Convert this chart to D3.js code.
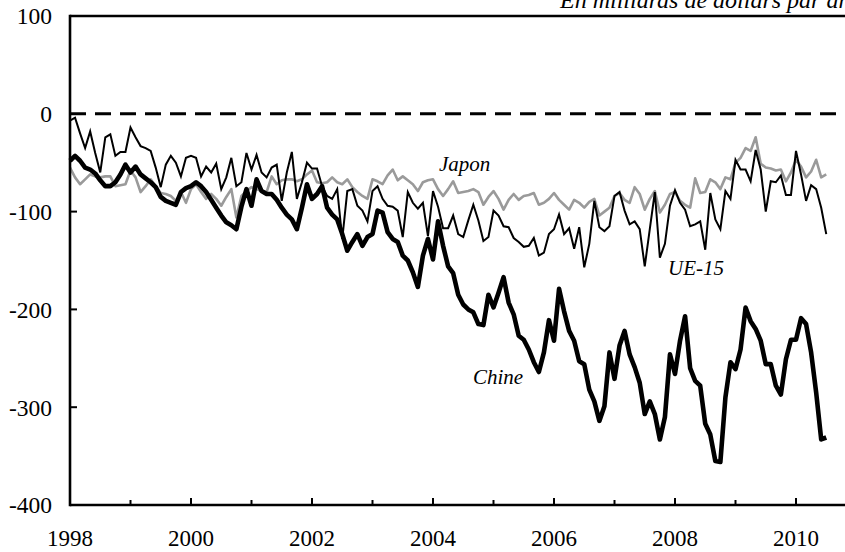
<!DOCTYPE html>
<html>
<head>
<meta charset="utf-8">
<script src="https://cdn.jsdelivr.net/npm/d3@7"></script>
<style>
  html, body { margin: 0; padding: 0; background: #fff; }
  svg { display: block; }
  text { font-family: "Liberation Serif", "Times New Roman", "DejaVu Serif", serif; fill: #000; }
</style>
</head>
<body>
<svg id="chart" width="845" height="552"></svg>
<script>
// ---- Data (monthly, starting January 1998), in billions of dollars per year ----
const startYear = 1998;
const seriesNames = ["Chine", "UE-15", "Japon"];
const chine = [
  -48,-43,-48,-55,-57,-61,-68,-74,-74,-70,-62,-52,
  -60,-54,-62,-66,-70,-75,-85,-89,-91,-93,-80,-76,
  -74,-70,-74,-80,-88,-96,-104,-111,-114,-118,-95,-77,
  -94,-67,-79,-82,-82,-88,-96,-103,-108,-118,-96,-72,
  -87,-82,-74,-96,-103,-108,-123,-140,-131,-123,-135,-126,
  -123,-99,-101,-121,-128,-131,-145,-150,-162,-177,-145,-128,
  -149,-110,-135,-156,-163,-185,-195,-200,-203,-215,-216,-185,
  -198,-183,-167,-193,-205,-227,-231,-241,-254,-264,-244,-211,
  -232,-179,-202,-222,-232,-253,-256,-282,-294,-314,-299,-244,
  -271,-237,-222,-246,-259,-275,-307,-294,-307,-333,-310,-246,
  -266,-232,-207,-260,-273,-278,-317,-328,-355,-356,-290,-254,
  -261,-241,-198,-212,-220,-232,-256,-256,-278,-287,-251,-231,
  -231,-209,-215,-244,-285,-333,-331
];
const ue15 = [
  -7,-4,-20,-35,-18,-40,-60,-24,-21,-43,-39,-39,
  -14,-24,-33,-35,-38,-55,-75,-52,-43,-50,-64,-45,
  -43,-45,-64,-54,-60,-51,-77,-65,-45,-74,-70,-40,
  -57,-42,-60,-65,-55,-52,-89,-60,-39,-87,-70,-50,
  -56,-56,-74,-84,-87,-77,-128,-79,-77,-94,-99,-110,
  -79,-74,-87,-94,-95,-99,-126,-80,-91,-97,-91,-125,
  -79,-95,-117,-117,-104,-123,-126,-109,-93,-109,-130,-126,
  -99,-104,-115,-116,-127,-131,-136,-135,-127,-145,-142,-123,
  -118,-103,-123,-117,-138,-116,-157,-133,-89,-116,-120,-115,
  -84,-80,-99,-113,-110,-118,-156,-118,-80,-147,-133,-94,
  -78,-91,-98,-115,-113,-110,-139,-81,-108,-118,-79,-87,
  -47,-57,-57,-69,-37,-57,-100,-69,-70,-63,-83,-83,
  -38,-62,-89,-73,-77,-96,-123
];
const japon = [
  -55,-65,-72,-67,-62,-64,-65,-64,-64,-74,-73,-72,
  -58,-65,-80,-74,-67,-74,-81,-82,-84,-89,-80,-91,
  -77,-72,-80,-87,-82,-87,-94,-85,-77,-106,-84,-79,
  -75,-77,-79,-80,-64,-72,-68,-67,-67,-69,-67,-62,
  -58,-70,-71,-70,-65,-70,-72,-67,-75,-80,-84,-87,
  -67,-69,-72,-63,-57,-68,-64,-68,-72,-79,-70,-68,
  -67,-77,-84,-77,-69,-81,-80,-79,-77,-80,-93,-85,
  -79,-87,-98,-88,-82,-88,-84,-83,-81,-93,-91,-87,
  -81,-88,-93,-98,-88,-91,-96,-90,-87,-104,-100,-96,
  -84,-81,-88,-91,-75,-82,-98,-87,-79,-101,-93,-82,
  -80,-89,-93,-96,-66,-81,-80,-67,-70,-77,-65,-67,
  -50,-45,-35,-38,-24,-51,-55,-56,-58,-57,-69,-60,
  -47,-54,-65,-59,-47,-65,-62
];
const yTicks = [100, 0, -100, -200, -300, -400];
const xTickYears = [1999, 2000, 2001, 2002, 2003, 2004, 2005, 2006, 2007, 2008, 2009, 2010];
const xLabelYears = [1998, 2000, 2002, 2004, 2006, 2008, 2010];
const titleText = "En milliards de dollars par an";

// ---- Layout ----
const svg = d3.select("#chart");
const plotLeft = 70, plotTop = 16, plotBottom = 505;
const x = d3.scaleLinear().domain([1998, 2011]).range([plotLeft, plotLeft + 13 * 60.5]);
const y = d3.scaleLinear().domain([-400, 100]).range([plotBottom, plotTop]);
const xRight = x(2011);

// Title (cut by top edge as in the source)
svg.append("text")
  .attr("x", 560).attr("y", 8)
  .attr("font-size", 24).attr("font-style", "italic")
  .text(titleText);

// Zero line (dashed)
svg.append("line")
  .attr("x1", plotLeft).attr("x2", xRight)
  .attr("y1", y(0)).attr("y2", y(0))
  .attr("stroke", "#000").attr("stroke-width", 3)
  .attr("stroke-dasharray", "16,9");

// Series lines
const line = d3.line()
  .x((d, i) => x(startYear + i / 12))
  .y(d => y(d));

svg.append("path").datum(japon)
  .attr("d", line).attr("fill", "none")
  .attr("stroke", "#9a9a9a").attr("stroke-width", 2.6)
  .attr("stroke-linejoin", "round");
svg.append("path").datum(ue15)
  .attr("d", line).attr("fill", "none")
  .attr("stroke", "#000").attr("stroke-width", 2)
  .attr("stroke-linejoin", "miter");
svg.append("path").datum(chine)
  .attr("d", line).attr("fill", "none")
  .attr("stroke", "#000").attr("stroke-width", 4.6)
  .attr("stroke-linejoin", "round");

// Frame: top line, left axis, bottom axis
svg.append("line").attr("x1", plotLeft).attr("x2", xRight).attr("y1", plotTop).attr("y2", plotTop)
  .attr("stroke", "#000").attr("stroke-width", 2.6);
svg.append("line").attr("x1", plotLeft).attr("x2", xRight).attr("y1", plotBottom).attr("y2", plotBottom)
  .attr("stroke", "#000").attr("stroke-width", 2.6);
svg.append("line").attr("x1", plotLeft).attr("x2", plotLeft).attr("y1", plotTop - 1.3).attr("y2", plotBottom + 1.3)
  .attr("stroke", "#000").attr("stroke-width", 2.6);

// Y ticks (inward) and labels
svg.selectAll(".ytick").data(yTicks.filter(v => v !== 100 && v !== -400 && v !== 0)).enter()
  .append("line")
  .attr("x1", plotLeft).attr("x2", plotLeft + 7)
  .attr("y1", d => y(d)).attr("y2", d => y(d))
  .attr("stroke", "#000").attr("stroke-width", 2);
svg.selectAll(".ylab").data(yTicks).enter()
  .append("text")
  .attr("x", 52).attr("y", d => y(d))
  .attr("dy", "0.36em")
  .attr("text-anchor", "end")
  .attr("font-size", 23.5)
  .text(d => d);

// X ticks (inward) and labels
svg.selectAll(".xtick").data(xTickYears).enter()
  .append("line")
  .attr("x1", d => x(d)).attr("x2", d => x(d))
  .attr("y1", plotBottom).attr("y2", d => plotBottom - (d % 2 === 0 ? 7 : 5))
  .attr("stroke", "#000").attr("stroke-width", 2);
svg.selectAll(".xlab").data(xLabelYears).enter()
  .append("text")
  .attr("x", d => x(d)).attr("y", 546)
  .attr("text-anchor", "middle")
  .attr("font-size", 23)
  .text(d => d);

// Series labels
const labels = [
  { name: seriesNames[1], x: 668, y: 275 },
  { name: seriesNames[2], x: 439, y: 171 },
  { name: seriesNames[0], x: 473, y: 384 }
];
svg.selectAll(".slab").data(labels).enter()
  .append("text")
  .attr("x", d => d.x).attr("y", d => d.y)
  .attr("font-size", 21).attr("font-style", "italic")
  .text(d => d.name);
</script>
</body>
</html>
